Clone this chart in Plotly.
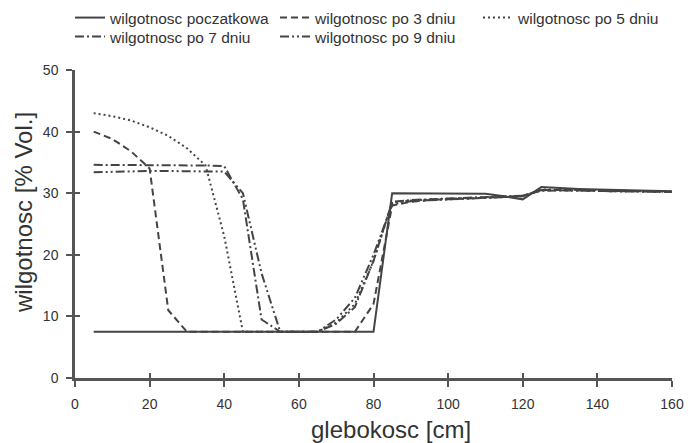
import plotly.graph_objects as go

depth = [5, 10, 15, 20, 25, 30, 35, 40, 45, 50, 55, 60, 65, 70, 75, 80,
         85, 90, 95, 100, 105, 110, 115, 120, 125, 130, 135, 140, 145, 150, 155, 160]

names = ["wilgotnosc poczatkowa", "wilgotnosc po 3 dniu", "wilgotnosc po 5 dniu",
         "wilgotnosc po 7 dniu", "wilgotnosc po 9 dniu"]

w_initial = [7.5, 7.5, 7.5, 7.5, 7.5, 7.5, 7.5, 7.5, 7.5, 7.5, 7.5, 7.5, 7.5, 7.5, 7.5, 7.5,
             30.0, 30.0, 30.0, 30.0, 30.0, 29.9, 29.5, 29.0, 31.0, 30.8, 30.7, 30.6, 30.5, 30.5, 30.4, 30.3]
w_day3 = [40.0, 38.8, 36.8, 34.0, 11.0, 7.5, 7.5, 7.5, 7.5, 7.5, 7.5, 7.5, 7.5, 7.5, 7.5, 12.0,
          28.0, 28.6, 28.9, 29.0, 29.1, 29.2, 29.4, 29.6, 30.5, 30.5, 30.4, 30.4, 30.3, 30.3, 30.2, 30.2]
w_day5 = [43.0, 42.5, 41.8, 40.7, 39.3, 37.3, 34.5, 23.0, 7.5, 7.5, 7.5, 7.5, 7.5, 9.0, 12.0, 19.0,
          28.5, 28.8, 29.0, 29.1, 29.2, 29.3, 29.4, 29.5, 30.6, 30.6, 30.5, 30.5, 30.4, 30.4, 30.3, 30.3]
w_day7 = [34.6, 34.6, 34.6, 34.6, 34.6, 34.5, 34.5, 34.4, 29.0, 9.5, 7.5, 7.5, 7.5, 8.8, 11.5, 19.0,
          28.6, 28.9, 29.0, 29.1, 29.2, 29.3, 29.4, 29.6, 30.4, 30.5, 30.5, 30.4, 30.4, 30.3, 30.3, 30.2]
w_day9 = [33.4, 33.5, 33.6, 33.6, 33.6, 33.6, 33.6, 33.5, 30.0, 17.0, 7.5, 7.5, 7.5, 9.5, 13.0, 20.0,
          28.2, 28.7, 28.9, 29.0, 29.1, 29.2, 29.3, 29.5, 30.5, 30.5, 30.4, 30.4, 30.3, 30.3, 30.2, 30.2]

x_ticks = [0, 20, 40, 60, 80, 100, 120, 140, 160]
y_ticks = [0, 10, 20, 30, 40, 50]

x_title = "glebokosc [cm]"
y_title = "wilgotnosc [% Vol.]"

series = [w_initial, w_day3, w_day5, w_day7, w_day9]
dashes = ["solid", "7px,4px", "2px,3px", "9px,3px,2px,3px", "9px,3px,2px,3px,2px,3px"]
legend_ids = ["legend", "legend", "legend3", "legend2", "legend2"]

line_col = "#444444"
axis_col = "#555555"
text_col = "#333333"
font_fam = "Liberation Sans, Arial, sans-serif"

fig = go.Figure()
for nm, ys, d, lg in zip(names, series, dashes, legend_ids):
    fig.add_trace(go.Scatter(x=depth, y=ys, name=nm, mode="lines", legend=lg,
                             line=dict(color=line_col, width=2, dash=d)))

leg_common = dict(orientation="h", xref="container", yref="container",
                  xanchor="left", yanchor="middle",
                  font=dict(size=15.5, color=text_col, family=font_fam),
                  entrywidth=160, entrywidthmode="pixels", itemwidth=30,
                  bgcolor="rgba(0,0,0,0)", borderwidth=0)

axis_common = dict(ticks="outside", ticklen=6, tickwidth=2, tickcolor=axis_col,
                   showline=True, linecolor=axis_col, linewidth=2.5,
                   showgrid=False, zeroline=False, ticklabelstandoff=5,
                   tickfont=dict(size=14, color=text_col, family=font_fam))

fig.update_layout(
    width=688, height=443,
    margin=dict(l=75, r=16, t=70, b=65, autoexpand=False),
    paper_bgcolor="white", plot_bgcolor="white",
    font=dict(family=font_fam, color=text_col),
    showlegend=True,
    legend=dict(x=70 / 688, y=1 - 18 / 443, **leg_common),
    legend3=dict(x=478 / 688, y=1 - 18 / 443, **leg_common),
    legend2=dict(x=70 / 688, y=1 - 37 / 443, **leg_common),
    xaxis=dict(range=[0, 160], tickvals=x_ticks, **axis_common),
    yaxis=dict(range=[0, 50], tickvals=y_ticks, **axis_common),
    xaxis2=dict(range=[0, 160], tickvals=x_ticks, overlaying="x", anchor="y",
                ticks="inside", ticklen=5, tickwidth=2, tickcolor=axis_col,
                showticklabels=False, showline=False, showgrid=False, zeroline=False),
    yaxis2=dict(range=[0, 50], tickvals=y_ticks, overlaying="y", anchor="x",
                ticks="inside", ticklen=5, tickwidth=2, tickcolor=axis_col,
                showticklabels=False, showline=False, showgrid=False, zeroline=False),
    annotations=[
        dict(text=x_title, xref="paper", yref="paper", x=(391 - 75) / 597, y=(378 - 429) / 308,
             xanchor="center", yanchor="middle", showarrow=False,
             font=dict(size=24, color=text_col, family=font_fam)),
        dict(text=y_title, xref="paper", yref="paper", x=(23 - 75) / 597, y=(378 - 213) / 308,
             xanchor="center", yanchor="middle", showarrow=False, textangle=-90,
             font=dict(size=24, color=text_col, family=font_fam)),
    ],
)
# invisible helper trace so the overlay axes (crossing tick marks) are drawn
fig.add_trace(go.Scatter(x=[None], y=[None], xaxis="x2", yaxis="y2", showlegend=False,
                         hoverinfo="skip"))

fig.write_html("out.html")
